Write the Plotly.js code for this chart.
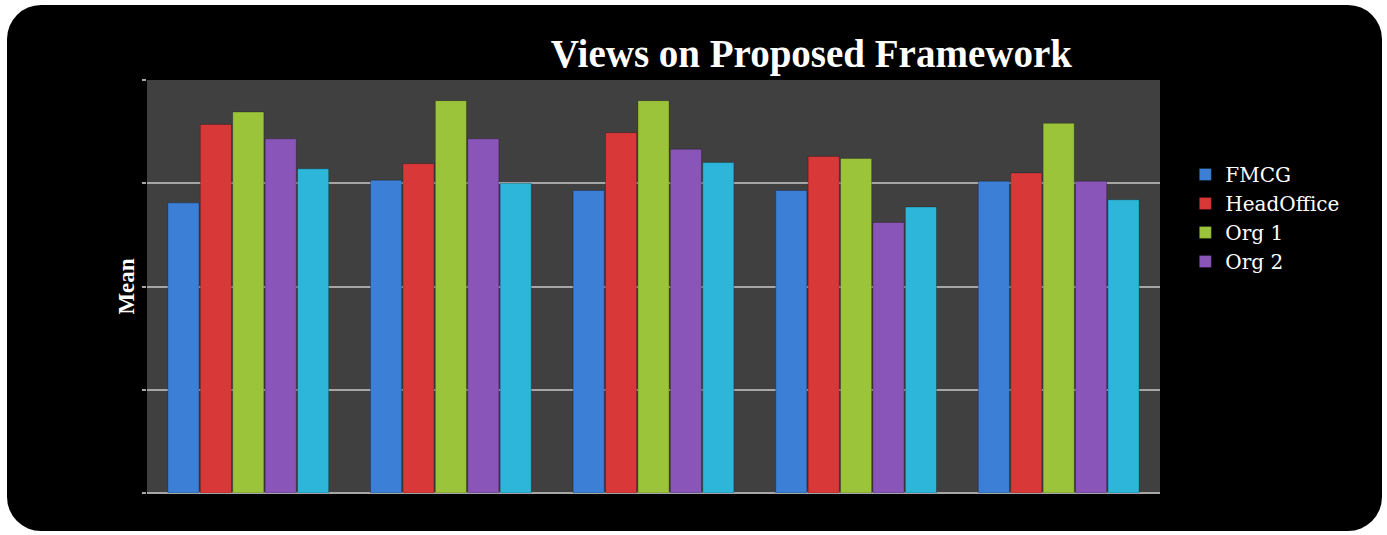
<!DOCTYPE html>
<html>
<head>
<meta charset="utf-8">
<script src="https://cdn.plot.ly/plotly-3.0.1.min.js"></script>
<style>
  html, body { margin: 0; padding: 0; background: #ffffff; }
  #frame { position: absolute; left: 7px; top: 5px; width: 1375px; height: 526px; background: #000000; border-radius: 34px; }
  #chart { position: absolute; left: 0; top: 0; width: 1387px; height: 535px; }
</style>
</head>
<body>
<div id="frame"></div>
<div id="chart"></div>
<script>
const categories = ["Item 1", "Item 2", "Item 3", "Item 4", "Item 5"];
const seriesNames = ["FMCG", "HeadOffice", "Org 1", "Org 2", "Other"];
const fmcg       = [2.81, 3.03, 2.93, 2.93, 3.02];
const headOffice = [3.57, 3.19, 3.49, 3.26, 3.10];
const org1       = [3.69, 3.80, 3.80, 3.24, 3.58];
const org2       = [3.43, 3.43, 3.33, 2.62, 3.02];
const other      = [3.14, 3.00, 3.20, 2.77, 2.84];
const seriesValues = [fmcg, headOffice, org1, org2, other];
const colors = ["#3b7fd6", "#d93838", "#9cc43a", "#8a55b8", "#2db6da"];
const inLegend = [true, true, true, true, false];

const traces = seriesValues.map((vals, i) => ({
  type: "bar",
  name: seriesNames[i],
  x: categories,
  y: vals,
  showlegend: inLegend[i],
  marker: { color: colors[i], line: { color: "rgba(0,0,0,0.25)", width: 1 } },
  hoverinfo: "x+y+name"
}));

const serif = "Liberation Serif, DejaVu Serif, serif";
const layout = {
  width: 1387, height: 535,
  paper_bgcolor: "rgba(0,0,0,0)",
  plot_bgcolor: "#404040",
  margin: { l: 147, r: 227, t: 80, b: 42, autoexpand: false },
  barmode: "group",
  bargap: 0.2,
  bargroupgap: 0.04,
  title: {
    text: "<b>Views on Proposed Framework</b>",
    font: { family: serif, size: 39, color: "#ffffff" },
    x: 0.585, xref: "container", xanchor: "center",
    y: 0.9, yref: "container", yanchor: "middle"
  },
  xaxis: {
    showticklabels: false, showgrid: false, zeroline: false,
    showline: false, ticks: ""
  },
  yaxis: {
    range: [0, 4], dtick: 1, tick0: 0,
    showticklabels: false,
    showgrid: true, gridcolor: "#a6a6a6", gridwidth: 2,
    zeroline: true, zerolinecolor: "#a6a6a6", zerolinewidth: 2,
    ticks: "outside", ticklen: 4, tickcolor: "#a6a6a6", tickwidth: 2,
    showline: false,
    title: { text: "<b>Mean</b>", font: { family: serif, size: 23, color: "#ffffff" }, standoff: 0 }
  },
  legend: {
    x: 1.025, xref: "paper", xanchor: "left",
    y: 0.666, yref: "paper", yanchor: "middle",
    font: { family: "DejaVu Serif, serif", size: 20, color: "#ffffff" },
    bgcolor: "rgba(0,0,0,0)",
    itemwidth: 30, tracegroupgap: 0
  },
  showlegend: true
};

Plotly.newPlot("chart", traces, layout, { displayModeBar: false, staticPlot: true });
</script>
</body>
</html>
